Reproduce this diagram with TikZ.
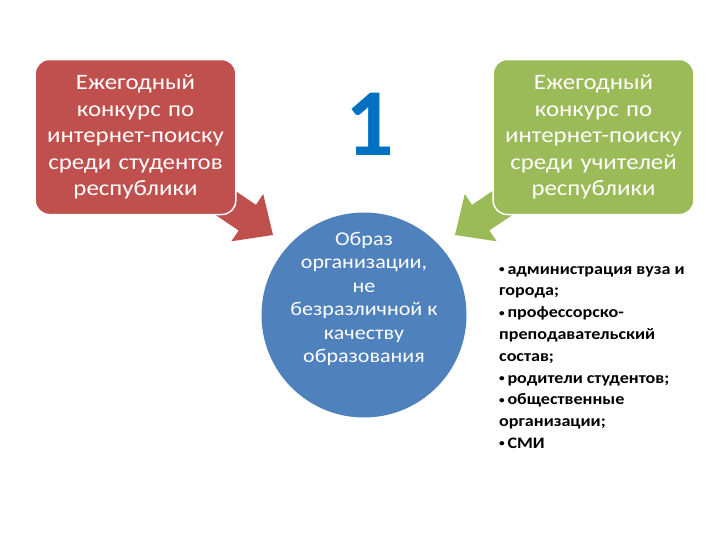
\documentclass[tikz,border=0pt]{standalone}
\usepackage{fontspec}
\setmainfont{Carlito}
\newfontfamily\widefont[FakeStretch=1.13]{Carlito}
\usetikzlibrary{calc}

\definecolor{redbox}{HTML}{C0504D}
\definecolor{greenbox}{HTML}{9BBB59}
\definecolor{bluecirc}{HTML}{4F81BD}
\definecolor{numblue}{HTML}{0070C0}

\newcommand{\blt}{\raisebox{0.2ex}{\fontsize{10}{10}\selectfont•}\,}

\tikzset{
  topbox/.style={rectangle, rounded corners=14pt, draw=white, line width=1.5pt,
    minimum width=196pt, minimum height=155pt, text width=194pt, align=center,
    text=white, font=\widefont\fontsize{22}{26.5}\selectfont},
  bigcirc/.style={circle, fill=bluecirc, minimum size=205pt, inner sep=0pt},
  circtext/.style={text=white, align=center, font=\widefont\fontsize{19.5}{23.4}\selectfont},
  listtext/.style={anchor=north west, align=left, inner sep=0pt,
    font=\widefont\bfseries\fontsize{16}{21.8}\selectfont}
}

\begin{document}
\begin{tikzpicture}[x=1pt,y=1pt]
  \useasboundingbox (0,0) rectangle (728,-546);

  % points of the two block arrows
  \coordinate (redtip) at (273,-235);
  \coordinate (greentip) at (455,-235);

  \begin{scope}[shift={(redtip)}, rotate=-34]
    \fill[redbox] (0,0) -- (-31,28.5) -- (-31,15.5) -- (-90,15.5)
      -- (-90,-15.5) -- (-31,-15.5) -- (-31,-28.5) -- cycle;
  \end{scope}
  \begin{scope}[shift={(greentip)}, rotate=214]
    \fill[greenbox] (0,0) -- (-31,28.5) -- (-31,15.5) -- (-90,15.5)
      -- (-90,-15.5) -- (-31,-15.5) -- (-31,-28.5) -- cycle;
  \end{scope}

  \node[topbox, fill=redbox] (students) at (135.5,-137)
    {Ежегодный\\конкурс по\\интернет-поиску\\среди студентов\\республики};
  \node[topbox, fill=greenbox] (teachers) at (593.5,-137)
    {Ежегодный\\конкурс по\\интернет-поиску\\среди учителей\\республики};

  \node[bigcirc] (image) at (364,-315) {};
  \node[circtext] (imagetext) at ([yshift=16pt]image.center)
    {Образ\\организации,\\не\\безразличной к\\качеству\\образования};

  \node[text=numblue, font=\bfseries\fontsize{96}{96}\selectfont] (num) at (370,-124) {1};

  \node[listtext] (groups) at (499,-266)
    {\blt администрация вуза и\\города;\\\blt профессорско-\\преподавательский\\состав;\\\blt родители студентов;\\\blt общественные\\организации;\\\blt СМИ};
\end{tikzpicture}
\end{document}
